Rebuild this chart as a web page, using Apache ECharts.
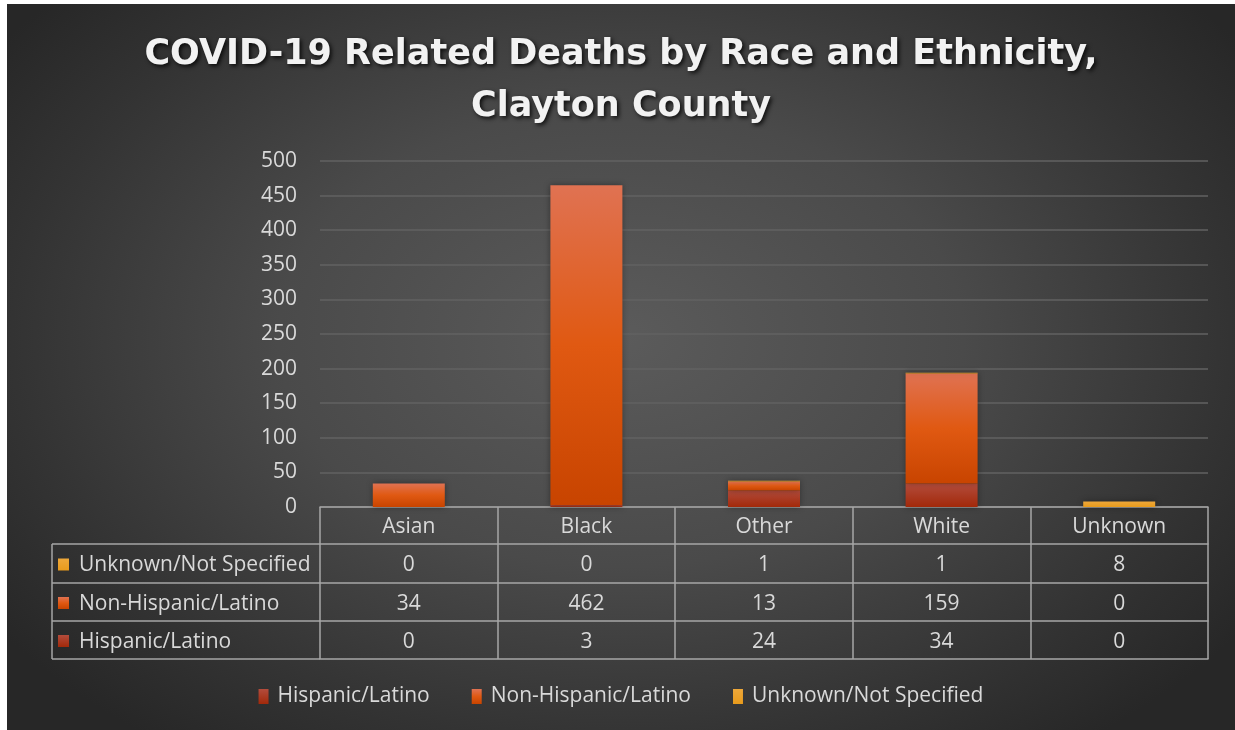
<!DOCTYPE html>
<html>
<head>
<meta charset="utf-8">
<script src="https://cdn.jsdelivr.net/npm/echarts@6/dist/echarts.min.js"></script>
<style>
  html, body { margin: 0; padding: 0; background: #ffffff; }
  #chart {
    position: absolute; left: 7px; top: 4px; width: 1228px; height: 726px;
    background: radial-gradient(ellipse 62% 70% at 50% 46%, #5b5b5b 0%, #4a4a4a 45%, #333333 80%, #272727 100%);
  }
</style>
</head>
<body>
<div id="chart"></div>
<script>
// data
var categories = ['Asian', 'Black', 'Other', 'White', 'Unknown'];
var seriesNames = ['Hispanic/Latino', 'Non-Hispanic/Latino', 'Unknown/Not Specified'];
var hispanic = [0, 3, 24, 34, 0];
var nonHispanic = [34, 462, 13, 159, 0];
var unknownNS = [0, 0, 1, 1, 8];
var yTicks = { min: 0, max: 500, interval: 50 };

var textColor = '#d9d9d9';
var lineColor = '#a6a6a6';
var font = '"Open Sans", sans-serif';
var fs = 21;

function vgrad(stops) {
  return new echarts.graphic.LinearGradient(0, 0, 0, 1, stops.map(function (s) {
    return { offset: s[0], color: s[1] };
  }));
}
var colors = [
  vgrad([[0, '#b34c3c'], [1, '#a2290a']]),
  vgrad([[0, '#e07252'], [0.5, '#e05912'], [1, '#c84400']]),
  vgrad([[0, '#eea83a'], [1, '#e89b1c']])
];

var dom = document.getElementById('chart');
var myChart = echarts.init(dom, null, { renderer: 'canvas' });

// table rows below the plot (top to bottom)
var rows = [
  { name: seriesNames[2], data: unknownNS, color: 2 },
  { name: seriesNames[1], data: nonHispanic, color: 1 },
  { name: seriesNames[0], data: hispanic, color: 0 }
];
var rowTop = [540, 579, 617];
var rowBottom = 655;
var gridLeft = 313;

var xAxes = [{
  type: 'category',
  data: categories,
  position: 'bottom',
  axisLine: { show: true, lineStyle: { color: lineColor, width: 1.5 } },
  axisTick: { show: true, length: 37, interval: 0, lineStyle: { color: lineColor, width: 1.5 } },
  axisLabel: { margin: 20, verticalAlign: 'middle', color: textColor, fontSize: fs, fontFamily: font }
}];
var offsets = [37, 76, 114];
var tickLen = [39, 38, 38];
rows.forEach(function (r, i) {
  xAxes.push({
    type: 'category',
    data: r.data.map(String),
    position: 'bottom',
    offset: offsets[i],
    axisLine: { show: true, lineStyle: { color: lineColor, width: 1.5 } },
    axisTick: { show: true, length: tickLen[i], interval: 0, lineStyle: { color: lineColor, width: 1.5 } },
    axisLabel: { margin: 21, interval: 0, verticalAlign: 'middle', color: textColor, fontSize: fs, fontFamily: font }
  });
});
xAxes.push({
  type: 'category',
  data: categories,
  position: 'bottom',
  offset: 152,
  axisLine: { show: true, lineStyle: { color: lineColor, width: 1.5 } },
  axisTick: { show: false },
  axisLabel: { show: false }
});

// left label column of the table
var graphics = [];
var hLines = rowTop.concat([rowBottom]);
hLines.forEach(function (y) {
  graphics.push({ type: 'line', shape: { x1: 45, y1: y, x2: gridLeft, y2: y }, style: { stroke: lineColor, lineWidth: 1.5 } });
});
graphics.push({ type: 'line', shape: { x1: 45, y1: rowTop[0], x2: 45, y2: rowBottom }, style: { stroke: lineColor, lineWidth: 1.5 } });
rows.forEach(function (r, i) {
  var yc = (rowTop[i] + (hLines[i + 1])) / 2 + 1;
  graphics.push({ type: 'rect', shape: { x: 51, y: yc - 6, width: 11, height: 12 }, style: { fill: colors[r.color] } });
  graphics.push({ type: 'text', x: 72, y: yc + 1, style: { text: r.name, fill: textColor, fontSize: fs, fontFamily: font, verticalAlign: 'middle' } });
});

var option = {
  backgroundColor: 'transparent',
  animation: false,
  title: {
    text: 'COVID-19 Related Deaths by Race and Ethnicity,\nClayton County',
    left: 'center',
    top: 20,
    textStyle: {
      color: '#f2f2f2',
      fontSize: 35,
      fontWeight: 'bold',
      fontFamily: '"DejaVu Sans", sans-serif',
      lineHeight: 52,
      textShadowColor: 'rgba(0,0,0,0.8)',
      textShadowBlur: 4,
      textShadowOffsetX: 2,
      textShadowOffsetY: 2
    }
  },
  legend: {
    bottom: 18,
    left: 'center',
    icon: 'rect',
    itemWidth: 10,
    itemHeight: 15,
    itemGap: 42,
    data: seriesNames,
    textStyle: { color: textColor, fontSize: fs, fontFamily: font, padding: [0, 0, 0, 4] }
  },
  grid: { left: gridLeft, right: 27, top: 157, bottom: 223 },
  xAxis: xAxes,
  yAxis: {
    type: 'value',
    min: yTicks.min,
    max: yTicks.max,
    interval: yTicks.interval,
    axisLine: { show: false },
    axisTick: { show: false },
    axisLabel: { margin: 23, color: textColor, fontSize: fs, fontFamily: font },
    splitLine: { lineStyle: { color: '#626262', width: 1.5 } }
  },
  graphic: graphics,
  series: [
    { name: seriesNames[0], type: 'bar', stack: 'total', xAxisIndex: 0, barWidth: 72, data: hispanic,
      itemStyle: { color: colors[0], shadowBlur: 6, shadowColor: 'rgba(0,0,0,0.35)' } },
    { name: seriesNames[1], type: 'bar', stack: 'total', xAxisIndex: 0, barWidth: 72, data: nonHispanic,
      itemStyle: { color: colors[1], shadowBlur: 6, shadowColor: 'rgba(0,0,0,0.35)' } },
    { name: seriesNames[2], type: 'bar', stack: 'total', xAxisIndex: 0, barWidth: 72, data: unknownNS,
      itemStyle: { color: colors[2], shadowBlur: 6, shadowColor: 'rgba(0,0,0,0.35)' } }
  ]
};
myChart.setOption(option, true);
</script>
</body>
</html>
